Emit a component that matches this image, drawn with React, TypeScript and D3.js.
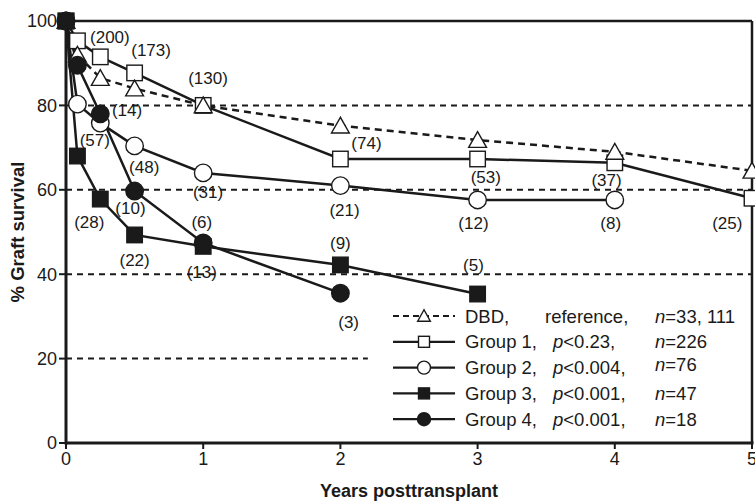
import React from "react";
import * as d3 from "d3";

const years = [0, 1 / 12, 0.25, 0.5, 1, 2, 3, 4, 5];
const dbd = [100, 92, 86.5, 84, 80, 75.2, 71.8, 69, 64.5];
const group1 = [100, 95.3, 91.5, 87.7, 80, 67.3, 67.3, 66.4, 58];
const group2 = [100, 80.3, 75.8, 70.4, 64, 61, 57.6, 57.6];
const group3 = [100, 68, 57.8, 49.3, 46.6, 42.2, 35.3];
const group4 = [100, 89.5, 78, 59.7, 47.4, 35.5];

const xTicks = [0, 1, 2, 3, 4, 5];
const yTicks = [0, 20, 40, 60, 80, 100];
const gridFull = [40, 60, 80];
const gridShort = [20];

const atRiskText = ["(200)", "(173)", "(130)", "(14)", "(57)", "(48)", "(31)", "(28)", "(10)", "(6)", "(22)", "(13)", "(3)", "(9)", "(5)", "(74)", "(53)", "(37)", "(21)", "(12)", "(8)", "(25)"];
const atRiskX = [0.32, 0.62, 1.035, 0.445, 0.21, 0.57, 1.035, 0.17, 0.47, 0.99, 0.5, 0.99, 2.06, 2.0, 2.97, 2.19, 3.06, 3.94, 2.03, 2.97, 3.97, 4.82];
const atRiskY = [96.2, 93.1, 86.5, 78.9, 71.8, 65.4, 59.5, 52.4, 55.7, 52.4, 43.4, 40.5, 28.7, 47.4, 42.2, 71.1, 63.0, 62.3, 55.2, 52.1, 52.1, 52.1];

const legendNames = ["DBD,", "Group 1,", "Group 2,", "Group 3,", "Group 4,"];
const legendP = ["reference,", "<0.23,", "<0.004,", "<0.001,", "<0.001,"];
const legendN = ["=33, 111", "=226", "=76", "=47", "=18"];

type Series = { values: number[]; marker: string; fill: string; dashed: boolean };
const seriesList: Series[] = [
  { values: group1, marker: "square", fill: "#fff", dashed: false },
  { values: dbd, marker: "triangle", fill: "#fff", dashed: true },
  { values: group2, marker: "circle", fill: "#fff", dashed: false },
  { values: group3, marker: "square", fill: "#1a1a1a", dashed: false },
  { values: group4, marker: "circle", fill: "#1a1a1a", dashed: false },
];
const legendOrder = [1, 0, 2, 3, 4];

const W = 755, H = 502;
const x = d3.scaleLinear().domain([0, 5]).range([66, 752]);
const y = d3.scaleLinear().domain([0, 100]).range([443, 21]);
const FONT = "'Liberation Sans', Arial, Helvetica, sans-serif";
const INK = "#1a1a1a";

function Marker({ kind, cx, cy, size, fill }: { kind: string; cx: number; cy: number; size: number; fill: string }) {
  const sw = 1.4;
  if (kind === "square") {
    return <rect x={cx - size / 2} y={cy - size / 2} width={size} height={size} fill={fill} stroke={INK} strokeWidth={sw} />;
  }
  if (kind === "circle") {
    return <circle cx={cx} cy={cy} r={size / 2 + 1} fill={fill} stroke={INK} strokeWidth={sw} />;
  }
  const h = size * 0.95;
  const w = size * 1.15;
  const pts = `${cx},${cy - h / 2 - 1} ${cx - w / 2},${cy + h / 2} ${cx + w / 2},${cy + h / 2}`;
  return <polygon points={pts} fill={fill} stroke={INK} strokeWidth={sw} strokeLinejoin="miter" />;
}

export default function App() {
  const line = d3.line<number>().x((_, i) => x(years[i])).y((v) => y(v));
  const legendY = (i: number) => 316 + i * 25.8;
  return (
    <svg width={W} height={H} style={{ position: "absolute", left: 0, top: 0, background: "#fff" }} fontFamily={FONT}>
      {gridFull.map((g) => (
        <line key={"g" + g} x1={x(0)} x2={x(5)} y1={y(g)} y2={y(g)} stroke={INK} strokeWidth={2} strokeDasharray="6,5" />
      ))}
      {gridShort.map((g) => (
        <line key={"gs" + g} x1={x(0)} x2={x(2.2)} y1={y(g)} y2={y(g)} stroke={INK} strokeWidth={2} strokeDasharray="6,5" />
      ))}
      <line x1={x(0)} x2={x(5)} y1={y(100)} y2={y(100)} stroke={INK} strokeWidth={2.5} />
      <line x1={x(5)} x2={x(5)} y1={y(100)} y2={y(0)} stroke={INK} strokeWidth={2.5} />
      <line x1={x(0)} x2={x(5) + 1.5} y1={y(0)} y2={y(0)} stroke={INK} strokeWidth={3} />
      <line x1={x(0)} x2={x(0)} y1={y(100) - 1} y2={y(0) + 1.5} stroke={INK} strokeWidth={3} />
      {yTicks.map((t) => (
        <g key={"yt" + t}>
          <line x1={x(0) - 7} x2={x(0)} y1={y(t)} y2={y(t)} stroke={INK} strokeWidth={2} />
          <text x={x(0) - 9} y={y(t)} dy="0.36em" textAnchor="end" fontSize={18} fill={INK}>{t}</text>
        </g>
      ))}
      {xTicks.map((t) => (
        <g key={"xt" + t}>
          <line x1={x(t)} x2={x(t)} y1={y(0)} y2={y(0) + 6} stroke={INK} strokeWidth={2} />
          <text x={x(t)} y={y(0) + 22} textAnchor="middle" fontSize={18} fill={INK}>{t}</text>
        </g>
      ))}
      <text x={(x(0) + x(5)) / 2} y={496.5} textAnchor="middle" fontSize={18} fontWeight="bold" fill={INK}>Years posttransplant</text>
      <text transform={`translate(24,${(y(0) + y(100)) / 2}) rotate(-90)`} textAnchor="middle" fontSize={18.5} fontWeight="bold" fill={INK}>% Graft survival</text>
      {seriesList.map((s, i) => (
        <path key={"l" + i} d={line(s.values) || ""} fill="none" stroke={INK} strokeWidth={2.5} strokeDasharray={s.dashed ? "7,5" : undefined} />
      ))}
      {atRiskText.map((t, i) => (
        <text key={"ar" + i} x={x(atRiskX[i])} y={y(atRiskY[i])} dy="0.36em" textAnchor="middle" fontSize={17} fill={INK}>{t}</text>
      ))}
      {seriesList.map((s, i) => (
        <g key={"m" + i}>
          {s.values.map((v, j) => (
            <Marker key={j} kind={s.marker} cx={x(years[j])} cy={y(v)} size={15.5} fill={s.fill} />
          ))}
        </g>
      ))}
      {legendOrder.map((si, i) => {
        const s = seriesList[si];
        const ly = legendY(i);
        return (
          <g key={"lg" + i}>
            <line x1={393} x2={455} y1={ly} y2={ly} stroke={INK} strokeWidth={2.2} strokeDasharray={s.dashed ? "6,4" : undefined} />
            <Marker kind={s.marker} cx={424} cy={ly} size={11} fill={s.fill} />
            <text x={465} y={ly} dy="0.36em" fontSize={18.5} fill={INK}>{legendNames[i]}</text>
            <text x={i === 0 ? 545 : 553} y={ly} dy="0.36em" fontSize={18.5} fill={INK}>
              {i === 0 ? null : <tspan fontStyle="italic">p</tspan>}
              {legendP[i]}
            </text>
            <text x={655} y={ly - (i === 2 ? 3 : 0)} dy="0.36em" fontSize={18.5} fill={INK}>
              <tspan fontStyle="italic">n</tspan>
              {legendN[i]}
            </text>
          </g>
        );
      })}
    </svg>
  );
}
